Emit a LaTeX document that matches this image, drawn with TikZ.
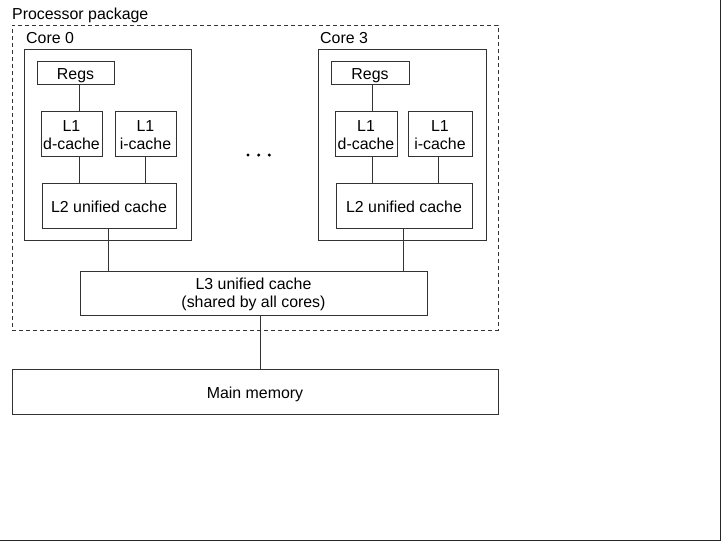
\documentclass[tikz,border=0pt]{standalone}
\usepackage{fontspec}
\setmainfont{Liberation Sans}
\begin{document}
\begin{tikzpicture}[x=1pt,y=-1pt,
  every node/.style={font=\fontsize{15.9}{18}\selectfont, text=black},
  box/.style={draw=black!80, line width=0.9pt, inner sep=0pt, align=center},
  oneline/.style={box, text height=14.5pt, text depth=0pt},
  twoline/.style={box, text height=32.5pt},
  wire/.style={draw=black!80, line width=0.9pt},
  lbl/.style={anchor=base west, inner sep=0pt}]
\useasboundingbox (0,0) rectangle (721,541);
% image frame (right and bottom edges)
\draw[black!85, line width=1.2pt] (720.4,0) -- (720.4,540.4) -- (0,540.4);

% processor package
\node[box, dashed, dash pattern=on 4pt off 3pt, minimum width=486pt, minimum height=305pt] (pkg) at (255,177.5) {};
\node[lbl] (pkgl) at (12,19.5) {Processor package};

% Core 0
\node[box, minimum width=167pt, minimum height=191pt] (core0) at (107.5,144.5) {};
\node[lbl] (core0l) at (26,43.5) {Core 0};
\node[oneline, minimum width=77pt, minimum height=23pt] (regs0) at (75.5,72.5) {Regs};
\node[twoline, minimum width=61pt, minimum height=45pt] (l1d0) at (71.5,133.5) {L1\\d-cache};
\node[twoline, minimum width=61pt, minimum height=45pt] (l1i0) at (145.5,133.5) {L1\\i-cache};
\node[oneline, minimum width=134pt, minimum height=45pt] (l20) at (109,205.5) {L2 unified cache};

% Core 3
\node[box, minimum width=168pt, minimum height=191pt] (core3) at (402,144.5) {};
\node[lbl] (core3l) at (320,43.5) {Core 3};
\node[oneline, minimum width=78pt, minimum height=23pt] (regs3) at (370,72.5) {Regs};
\node[twoline, minimum width=62pt, minimum height=45pt] (l1d3) at (366,133.5) {L1\\d-cache};
\node[twoline, minimum width=64pt, minimum height=45pt] (l1i3) at (440,133.5) {L1\\i-cache};
\node[oneline, minimum width=136pt, minimum height=45pt] (l23) at (404,205.5) {L2 unified cache};

% dots
\node[inner sep=0pt] (dots) at (259,155) {};
\fill[black] (248,155) circle (1.7pt) (258.7,155) circle (1.7pt) (269.3,155) circle (1.7pt);

% L3
\node[twoline, minimum width=347pt, minimum height=44pt] (l3) at (253.5,293) {L3 unified cache\\(shared by all cores)};

% Main memory
\node[oneline, minimum width=486pt, minimum height=45pt] (mem) at (255,391.5) {Main memory};

% connectors core 0
\draw[wire] (79,0 |- regs0.south) -- (79,0 |- l1d0.north);
\draw[wire] (79,0 |- l1d0.south) -- (79,0 |- l20.north);
\draw[wire] (145,0 |- l1i0.south) -- (145,0 |- l20.north);
\draw[wire] (108,0 |- l20.south) -- (108,0 |- l3.north);
% connectors core 3
\draw[wire] (372,0 |- regs3.south) -- (372,0 |- l1d3.north);
\draw[wire] (372,0 |- l1d3.south) -- (372,0 |- l23.north);
\draw[wire] (438,0 |- l1i3.south) -- (438,0 |- l23.north);
\draw[wire] (403,0 |- l23.south) -- (403,0 |- l3.north);
% L3 to memory
\draw[wire] (260,0 |- l3.south) -- (260,0 |- mem.north);
\end{tikzpicture}
\end{document}
